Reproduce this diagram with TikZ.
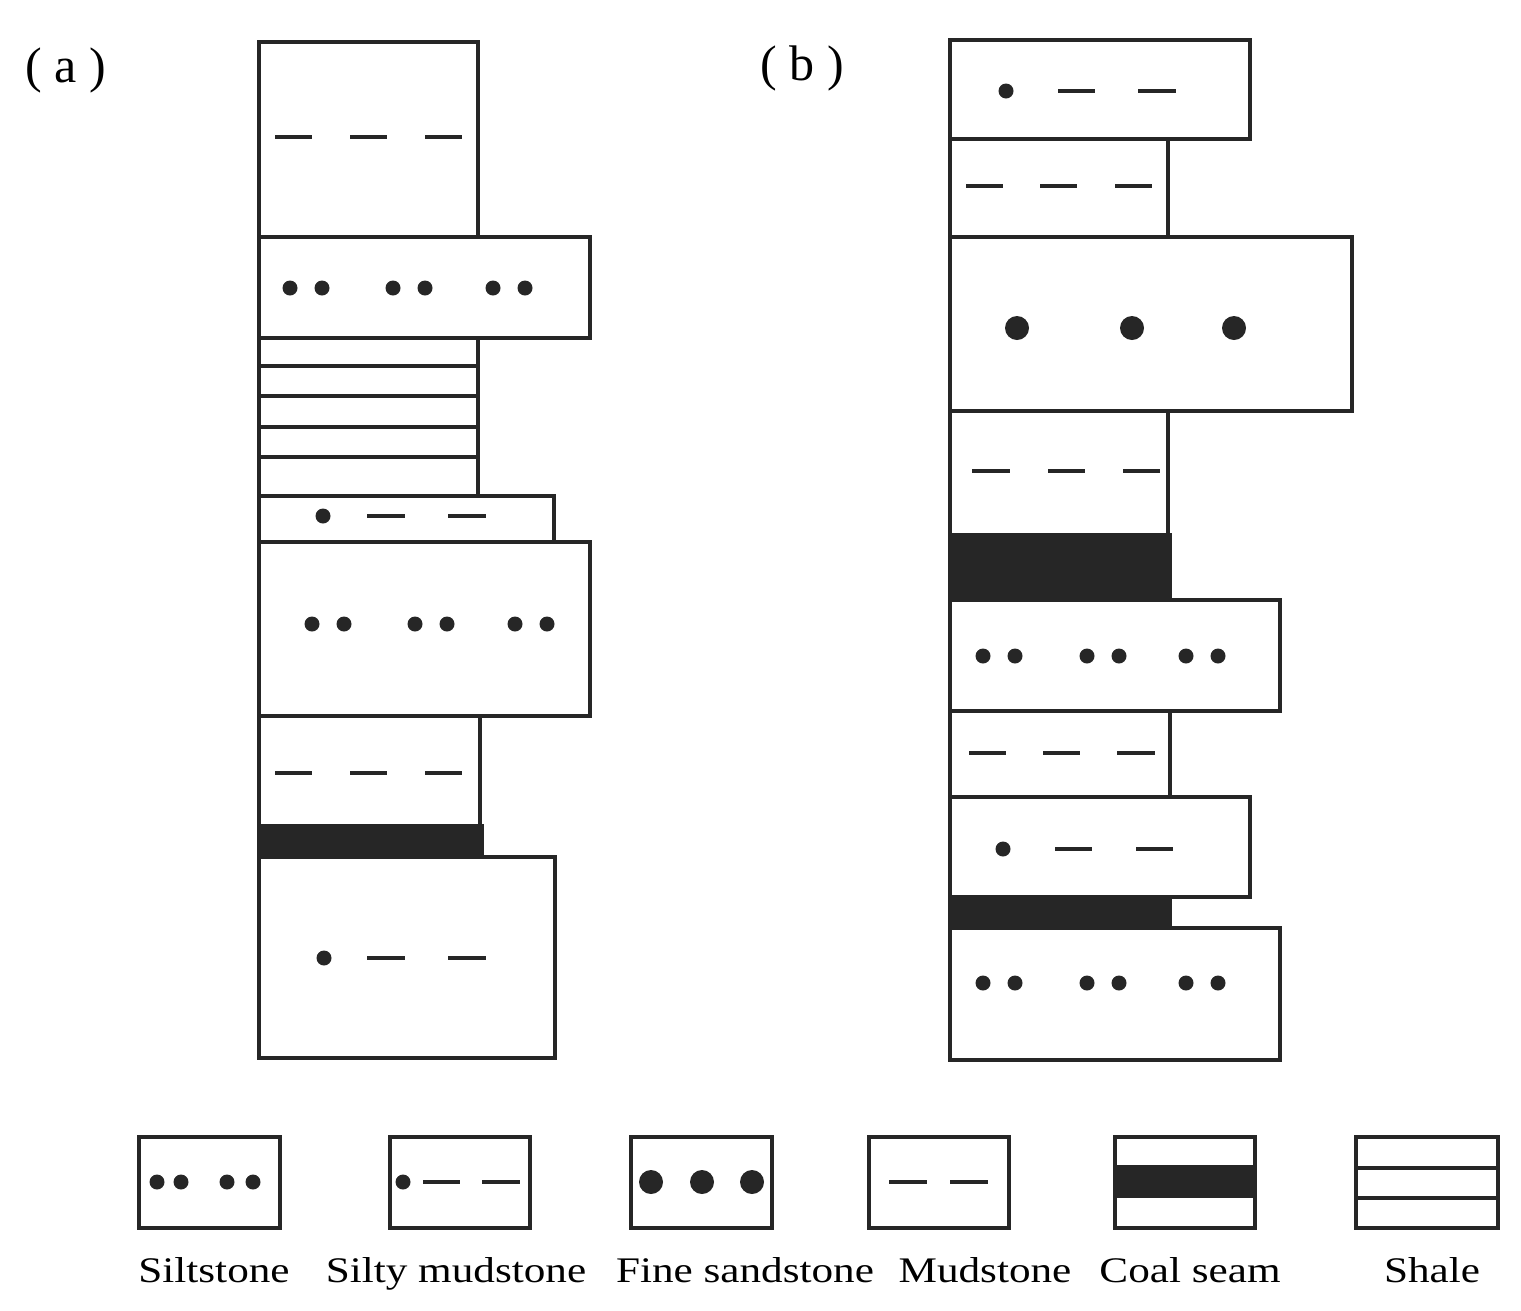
\documentclass[tikz,border=0pt]{standalone}
\usepackage{fontspec}
\setmainfont{Liberation Serif}
\begin{document}
\begin{tikzpicture}[x=1pt,y=-1pt,line width=4pt,
  bed/.style={draw=black!85,line join=miter},
  dsh/.style={line width=3.5pt,draw=black!85},
  dt/.style={fill=black!85},
  lab/.style={font=\fontsize{36}{40}\selectfont,inner sep=0pt,anchor=base,xscale=1.2}]
\useasboundingbox (0,0) rectangle (1521,1310);
\newcommand{\mydashes}[2]{\foreach \a/\b in {#2} \draw[dsh] (\a,#1) -- (\b,#1);}
\newcommand{\mydots}[2]{\foreach \a in {#2} \fill[dt] (\a,#1) circle (7.5);}
\newcommand{\mybigdots}[2]{\foreach \a in {#2} \fill[dt] (\a,#1) circle (12);}
% column a
\draw[bed] (259,42) rectangle (478,237); \mydashes{137}{275/312,350/387,425/462}
\draw[bed] (259,237) rectangle (590,338); \mydots{288}{290,322,393,425,493,525}
\draw[bed] (259,338) rectangle (478,496);
\foreach \y in {366,396,427,457} \draw[bed] (259,\y) -- (478,\y);
\draw[bed] (259,496) rectangle (554,542); \mydots{516}{323} \mydashes{516}{367/405,448/486}
\draw[bed] (259,542) rectangle (590,716); \mydots{624}{312,344,415,447,515,547}
\draw[bed] (259,716) rectangle (480,826); \mydashes{773}{275/312,350/387,425/462}
\draw[bed,fill=black!85] (259,826) rectangle (482,857);
\draw[bed] (259,857) rectangle (555,1058); \mydots{958}{324} \mydashes{958}{367/405,448/486}
% column b
\draw[bed] (950,40) rectangle (1250,139); \mydots{91}{1006} \mydashes{91}{1058/1095,1138/1176}
\draw[bed] (950,139) rectangle (1168,237); \mydashes{186}{966/1003,1040/1077,1115/1152}
\draw[bed] (950,237) rectangle (1352,411); \mybigdots{328}{1017,1132,1234}
\draw[bed] (950,411) rectangle (1168,535); \mydashes{471}{972/1010,1048/1085,1123/1160}
\draw[bed,fill=black!85] (950,535) rectangle (1170,600);
\draw[bed] (950,600) rectangle (1280,711); \mydots{656}{983,1015,1087,1119,1186,1218}
\draw[bed] (950,711) rectangle (1170,797); \mydashes{753}{969/1006,1043/1080,1117/1155}
\draw[bed] (950,797) rectangle (1250,897); \mydots{849}{1003} \mydashes{849}{1055/1092,1136/1173}
\draw[bed,fill=black!85] (950,897) rectangle (1170,928);
\draw[bed] (950,928) rectangle (1280,1060); \mydots{983}{983,1015,1087,1119,1186,1218}
% labels
\node[inner sep=0pt,font=\fontsize{50}{56}\selectfont] (la) at (66,70) {(\hspace{0.25em}a\hspace{0.25em})};
\node[inner sep=0pt,font=\fontsize{50}{56}\selectfont] (lb) at (802,68) {(\hspace{0.25em}b\hspace{0.25em})};
% legend
\draw[bed] (139,1137) rectangle (280,1228); \mydots{1182}{157,181,227,253}
\draw[bed] (390,1137) rectangle (530,1228); \mydots{1182}{403} \mydashes{1182}{423/460,482/520}
\draw[bed] (631,1137) rectangle (772,1228); \mybigdots{1182}{651,702,752}
\draw[bed] (869,1137) rectangle (1009,1228); \mydashes{1182}{889/927,950/988}
\draw[bed] (1115,1137) rectangle (1255,1228); \fill[black!85] (1115,1165) rectangle (1255,1198);
\draw[bed] (1356,1137) rectangle (1498,1228);
\draw[bed] (1356,1168) -- (1498,1168); \draw[bed] (1356,1198) -- (1498,1198);
\node[lab] (t1) at (214,1282) {Siltstone};
\node[lab] (t2) at (456,1282) {Silty mudstone};
\node[lab] (t3) at (745,1282) {Fine sandstone};
\node[lab] (t4) at (985,1282) {Mudstone};
\node[lab] (t5) at (1190,1282) {Coal seam};
\node[lab] (t6) at (1432,1282) {Shale};
\end{tikzpicture}
\end{document}
